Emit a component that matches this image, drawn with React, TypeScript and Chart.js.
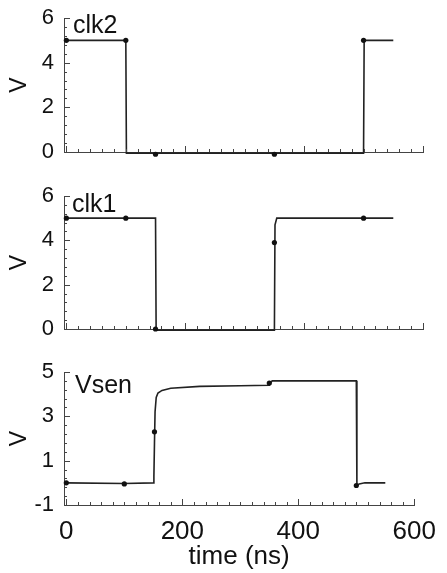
import React, { useEffect, useRef } from 'react';
import { Chart, registerables } from 'chart.js';

Chart.register(...registerables);

const FONT = "'Liberation Sans', Arial, Helvetica, sans-serif";
const INK = '#111';

// ---- data (time in ns, voltage in V) ----
const clk2Time = [0, 100, 101, 500, 501, 550];
const clk2Volt = [5, 5, -0.05, -0.05, 5, 5];
const clk2MarkTime = [0, 100, 150, 350, 500];
const clk2MarkVolt = [5, 5, -0.1, -0.1, 5];

const clk1Time = [0, 150, 151, 350, 351, 354, 550];
const clk1Volt = [5, 5, -0.05, -0.05, 4.7, 5, 5];
const clk1MarkTime = [0, 100, 150, 350, 500];
const clk1MarkVolt = [5, 5, 0, 3.9, 5];

const vsenTime = [0, 100, 150, 151, 152, 153, 155, 158, 165, 180, 230, 300, 350, 352, 355, 500, 501, 505, 515, 550];
const vsenVolt = [0, -0.03, 0, 0.3, 1.8, 3.2, 3.85, 4.05, 4.17, 4.27, 4.35, 4.38, 4.4, 4.52, 4.6, 4.6, -0.12, -0.05, 0, 0];
const vsenMarkTime = [0, 100, 152, 350, 500];
const vsenMarkVolt = [0, -0.05, 2.3, 4.5, -0.12];

const timeTickLabels = [0, 200, 400, 600];
const clkTickLabels = [0, 2, 4, 6];
const vsenTickLabels = [-1, 1, 3, 5];

const xTitle = 'time (ns)';
const yTitle = 'V';

const innerTicks = {
  id: 'innerTicks',
  afterDraw(chart: any) {
    const { ctx, chartArea, scales } = chart;
    const xs = scales.x;
    const ys = scales.y;
    ctx.save();
    ctx.strokeStyle = '#444';
    ctx.lineWidth = 1;
    ctx.beginPath();
    xs.ticks.forEach((t: any) => {
      const px = Math.round(xs.getPixelForValue(t.value)) + 0.5;
      const len = timeTickLabels.includes(t.value) ? 6 : 3;
      ctx.moveTo(px, chartArea.bottom);
      ctx.lineTo(px, chartArea.bottom - len);
    });
    const labels: number[] = chart.options.plugins.innerTicks.yLabels;
    ys.ticks.forEach((t: any) => {
      const py = Math.round(ys.getPixelForValue(t.value)) + 0.5;
      const len = labels.some((l) => Math.abs(l - t.value) < 1e-6) ? 6 : 3;
      ctx.moveTo(chartArea.left, py);
      ctx.lineTo(chartArea.left + len, py);
    });
    ctx.stroke();
    ctx.restore();
  },
};

const panelLabel = {
  id: 'panelLabel',
  afterDraw(chart: any, _args: any, opts: any) {
    const { ctx, chartArea } = chart;
    ctx.save();
    ctx.font = `25px ${FONT}`;
    ctx.fillStyle = INK;
    ctx.textBaseline = 'alphabetic';
    ctx.textAlign = 'left';
    ctx.fillText(opts.text, chartArea.left + opts.dx, chartArea.top + opts.dy);
    ctx.restore();
  },
};

type PanelProps = {
  top: number;
  height: number;
  padTop: number;
  xAxisHeight: number;
  label: string;
  labelDx: number;
  labelDy: number;
  time: number[];
  volt: number[];
  markTime: number[];
  markVolt: number[];
  yMin: number;
  yMax: number;
  yLabels: number[];
  showX: boolean;
};

function Panel(p: PanelProps) {
  const ref = useRef<HTMLCanvasElement>(null);
  useEffect(() => {
    const chart = new Chart(ref.current as HTMLCanvasElement, {
      type: 'scatter',
      data: {
        datasets: [
          {
            data: p.markTime.map((t, i) => ({ x: t, y: p.markVolt[i] })),
            showLine: false,
            pointRadius: 2.6,
            pointBackgroundColor: INK,
            pointBorderColor: INK,
            pointBorderWidth: 0,
            clip: false,
            order: 0,
          },
          {
            data: p.time.map((t, i) => ({ x: t, y: p.volt[i] })),
            showLine: true,
            borderColor: '#222',
            borderWidth: 1.6,
            pointRadius: 0,
            tension: 0,
            clip: false,
            order: 1,
          },
        ],
      },
      options: {
        responsive: false,
        animation: false,
        events: [],
        layout: { padding: { top: p.padTop, right: 24, left: 0, bottom: 0 } },
        plugins: {
          legend: { display: false },
          tooltip: { enabled: false },
          innerTicks: { yLabels: p.yLabels },
          panelLabel: { text: p.label, dx: p.labelDx, dy: p.labelDy },
        } as any,
        scales: {
          x: {
            type: 'linear',
            min: -4,
            max: 600,
            afterBuildTicks: (s: any) => {
              const ticks = [];
              for (let v = 0; v <= 600; v += 20) ticks.push({ value: v });
              s.ticks = ticks;
            },
            afterFit: (s: any) => {
              s.height = p.xAxisHeight;
            },
            grid: { display: true, drawOnChartArea: false, drawTicks: false },
            border: { display: true, color: '#444', width: 1 },
            ticks: {
              display: p.showX,
              autoSkip: false,
              maxRotation: 0,
              padding: 11,
              color: INK,
              font: { family: FONT, size: 26 },
              callback: (v: any) => (timeTickLabels.includes(Number(v)) ? String(v) : ''),
            },
            title: {
              display: p.showX,
              text: xTitle,
              color: INK,
              font: { family: FONT, size: 26 },
              padding: { top: 0, bottom: 1 },
            },
          },
          y: {
            type: 'linear',
            min: p.yMin,
            max: p.yMax,
            afterBuildTicks: (s: any) => {
              const ticks = [];
              for (let i = 0; i <= 15; i++) ticks.push({ value: Math.round((p.yMin + i * 0.4) * 10) / 10 });
              s.ticks = ticks;
            },
            afterFit: (s: any) => {
              s.width = 64;
            },
            grid: { display: true, drawOnChartArea: false, drawTicks: false },
            border: { display: true, color: '#444', width: 1 },
            ticks: {
              autoSkip: false,
              padding: 10,
              color: INK,
              font: { family: FONT, size: 22 },
              callback: (v: any) =>
                p.yLabels.some((l) => Math.abs(l - Number(v)) < 1e-6) ? String(Math.round(Number(v))) : '',
            },
            title: {
              display: true,
              text: yTitle,
              color: INK,
              font: { family: FONT, size: 23 },
              padding: { top: 6, bottom: 0 },
            },
          },
        },
      } as any,
      plugins: [innerTicks, panelLabel],
    });
    return () => chart.destroy();
  }, []);
  return (
    <canvas
      ref={ref}
      width={447}
      height={p.height}
      style={{ position: 'absolute', left: 0, top: p.top, width: 447, height: p.height, display: 'block' }}
    />
  );
}

export default function App() {
  return (
    <div style={{ position: 'absolute', left: 0, top: 0, width: 447, height: 573, background: '#fff', overflow: 'hidden' }}>
      <Panel
        top={-6}
        height={182}
        padTop={24}
        xAxisHeight={24}
        label="clk2"
        labelDx={9}
        labelDy={15}
        time={clk2Time}
        volt={clk2Volt}
        markTime={clk2MarkTime}
        markVolt={clk2MarkVolt}
        yMin={0}
        yMax={6}
        yLabels={clkTickLabels}
        showX={false}
      />
      <Panel
        top={172}
        height={181}
        padTop={24}
        xAxisHeight={24}
        label="clk1"
        labelDx={8}
        labelDy={16}
        time={clk1Time}
        volt={clk1Volt}
        markTime={clk1MarkTime}
        markVolt={clk1MarkVolt}
        yMin={0}
        yMax={6}
        yLabels={clkTickLabels}
        showX={false}
      />
      <Panel
        top={348}
        height={225}
        padTop={24}
        xAxisHeight={68}
        label="Vsen"
        labelDx={11}
        labelDy={21}
        time={vsenTime}
        volt={vsenVolt}
        markTime={vsenMarkTime}
        markVolt={vsenMarkVolt}
        yMin={-1}
        yMax={5}
        yLabels={vsenTickLabels}
        showX={true}
      />
    </div>
  );
}
